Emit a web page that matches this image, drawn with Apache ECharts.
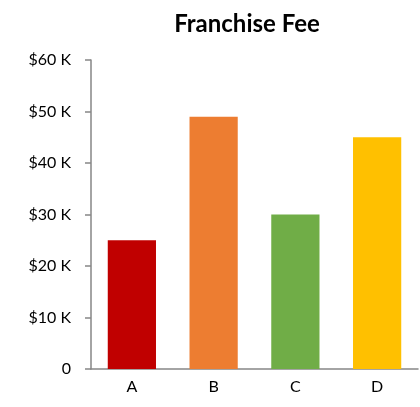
<!DOCTYPE html>
<html>
<head>
<meta charset="utf-8">
<script src="https://cdn.jsdelivr.net/npm/echarts@6/dist/echarts.min.js"></script>
<style>
  html, body { margin: 0; padding: 0; background: #fff; }
  #chart { width: 420px; height: 407px; }
</style>
</head>
<body>
<div id="chart"></div>
<script>
// 数据
const categories = ['A', 'B', 'C', 'D'];
const fees = [25000, 49000, 30000, 45000];
const barColors = ['#C00000', '#ED7D31', '#70AD47', '#FFC000'];

const chart = echarts.init(document.getElementById('chart'), null, { renderer: 'canvas' });

const option = {
  animation: false,
  title: {
    text: 'Franchise Fee',
    left: 242,
    top: 7,
    textAlign: 'center',
    textStyle: { fontFamily: 'Lato', fontSize: 24, fontWeight: 'bold', color: '#000' }
  },
  grid: { left: 91, right: 2, top: 60, bottom: 38 },
  xAxis: {
    type: 'category',
    data: categories,
    axisLine: { lineStyle: { color: '#868686', width: 1.5 } },
    axisTick: { show: false },
    axisLabel: { color: '#000', fontFamily: 'Lato', fontSize: 16, margin: 10 }
  },
  yAxis: {
    type: 'value',
    min: 0,
    max: 60000,
    interval: 10000,
    splitLine: { show: false },
    axisLine: { show: true, lineStyle: { color: '#868686', width: 1.5 } },
    axisTick: { show: true, length: 6, lineStyle: { color: '#868686', width: 1.5 } },
    axisLabel: {
      color: '#000', fontFamily: 'Lato', fontSize: 16, margin: 20,
      formatter: v => v === 0 ? '0' : '$' + (v / 1000) + ' K'
    }
  },
  series: [{
    type: 'bar',
    barWidth: '59%',
    data: fees.map((v, i) => ({ value: v, itemStyle: { color: barColors[i] } }))
  }]
};

chart.setOption(option);
</script>
</body>
</html>
